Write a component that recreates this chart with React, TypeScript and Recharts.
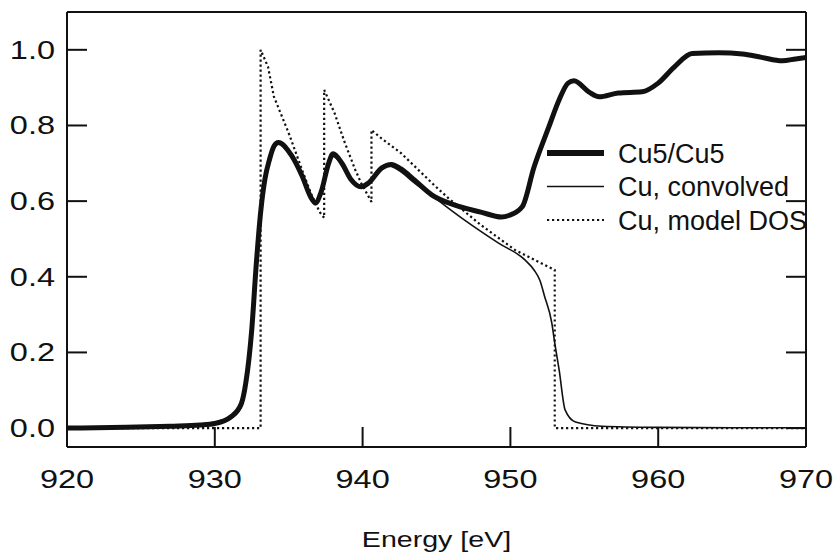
import { LineChart, Line, XAxis, YAxis, Legend } from 'recharts'

const energyTicks = [920, 930, 940, 950, 960, 970]
const innerEnergyTicks = [930, 940, 950, 960]
const intensityTicks = [0, 0.2, 0.4, 0.6, 0.8, 1.0]

// [energy eV, normalised intensity]
const cu5Cu5: [number, number][] = [
  [920, 0.0], [924, 0.002], [927, 0.005], [929, 0.008], [930, 0.012],
  [931.1, 0.03], [931.8, 0.065], [932.1, 0.12], [932.5, 0.26], [932.8, 0.43],
  [933.1, 0.57], [933.4, 0.66], [933.7, 0.71], [934.0, 0.745], [934.3, 0.755],
  [935.2, 0.72], [935.9, 0.667], [936.5, 0.61], [936.8, 0.595], [937.2, 0.625],
  [937.7, 0.7], [938.0, 0.725], [938.6, 0.7], [939.2, 0.658], [939.9, 0.638],
  [940.4, 0.648], [941.3, 0.688], [941.95, 0.697], [942.6, 0.685], [943.5, 0.656],
  [944.7, 0.616], [946.2, 0.59], [948.0, 0.571], [949.4, 0.558], [949.9, 0.562],
  [950.8, 0.585], [951.6, 0.69], [952.6, 0.796], [953.3, 0.868], [953.9, 0.912],
  [954.3, 0.918], [955.3, 0.889], [956.0, 0.876], [957.3, 0.886], [958.9, 0.889],
  [960.0, 0.912], [961.1, 0.955], [962.3, 0.99], [964.1, 0.992], [965.7, 0.989],
  [967.0, 0.98], [968.4, 0.971], [969.3, 0.976], [970, 0.98],
]

const cuConvolved: [number, number][] = [
  [920, 0.002], [924, 0.003], [927, 0.005], [929, 0.008], [930, 0.011],
  [931.1, 0.026], [931.8, 0.056], [932.1, 0.11], [932.5, 0.25], [932.8, 0.42],
  [933.1, 0.56], [933.4, 0.65], [933.7, 0.71], [934.1, 0.75], [934.4, 0.752],
  [935.2, 0.715], [935.9, 0.662], [936.5, 0.61], [936.8, 0.598], [937.2, 0.615],
  [937.7, 0.695], [938.0, 0.718], [938.6, 0.695], [939.2, 0.655], [939.8, 0.638],
  [940.4, 0.65], [941.2, 0.68], [941.8, 0.693], [942.5, 0.68], [943.5, 0.648],
  [944.9, 0.608], [946.9, 0.55], [949.2, 0.489], [951.0, 0.444], [951.6, 0.418],
  [952.0, 0.39], [952.3, 0.35], [952.8, 0.278], [953.0, 0.225], [953.3, 0.153],
  [953.7, 0.048], [954.4, 0.016], [956.2, 0.005], [960, 0.002], [965, 0.001],
  [970, 0.001],
]

const cuModelDos: [number, number][] = [
  [920, 0], [933.1, 0], [933.1, 1.0], [933.6, 0.955], [934.0, 0.876],
  [935.0, 0.78], [935.9, 0.683], [936.5, 0.621], [937.1, 0.571], [937.4, 0.556],
  [937.4, 0.894], [938.1, 0.833], [938.8, 0.754], [939.5, 0.683], [939.9, 0.648],
  [940.6, 0.598], [940.6, 0.788], [941.3, 0.765], [942.6, 0.727], [944.9, 0.64],
  [945.8, 0.608], [948.0, 0.537], [949.4, 0.497], [950.3, 0.471], [953.0, 0.418],
  [953.0, 0], [970, 0],
]

const toPoints = (rows: [number, number][]) => rows.map(([e, v]) => ({ e, v }))

const INK = '#111'
const FONT = '"Liberation Sans", Arial, Helvetica, sans-serif'
const STRETCH = 1.3 // the scanned figure's lettering is wide

const series = [
  { key: 'cu5', name: 'Cu5/Cu5', rows: cu5Cu5, width: 5, dash: undefined, curve: 'monotone' as const },
  { key: 'conv', name: 'Cu, convolved', rows: cuConvolved, width: 1.6, dash: undefined, curve: 'monotone' as const },
  { key: 'dos', name: 'Cu, model DOS', rows: cuModelDos, width: 2.2, dash: '2.2 2.8', curve: 'linear' as const },
]

function LegendBox() {
  return (
    <svg width={280} height={100} style={{ display: 'block', overflow: 'visible' }}>
      {series.map((s, i) => {
        const cy = 17 + i * 33.5
        return (
          <g key={s.key}>
            <line x1={0} x2={57} y1={cy} y2={cy} stroke={INK} strokeWidth={s.width === 5 ? 6 : s.width} strokeDasharray={s.dash} />
            <text x={71} y={cy + 9.5} fontSize={27} fill={INK} fontFamily={FONT}>
              {s.name}
            </text>
          </g>
        )
      })}
    </svg>
  )
}

function BottomTick(props: any) {
  const { x, y, payload } = props
  return (
    <text transform={`translate(${x},${y}) scale(${STRETCH},1)`} textAnchor="middle" dy="0.72em" fontSize={25} fill={INK}>
      {payload.value}
    </text>
  )
}

function LeftTick(props: any) {
  const { x, y, payload } = props
  return (
    <text transform={`translate(${x},${y}) scale(${STRETCH},1)`} textAnchor="end" dy="0.36em" fontSize={25} fill={INK}>
      {Number(payload.value).toFixed(1)}
    </text>
  )
}

function EnergyLabel(props: any) {
  const vb = props.viewBox || {}
  const cx = vb.x + vb.width / 2
  const by = vb.y + vb.height - 8
  return (
    <text transform={`translate(${cx},${by}) scale(${STRETCH},1)`} textAnchor="middle" fontSize={22} fill={INK}>
      Energy [eV]
    </text>
  )
}

const axisLine = { stroke: INK, strokeWidth: 2 }
const tickLine = { stroke: INK, strokeWidth: 2 }

export default function App() {
  return (
    <div style={{ position: 'absolute', left: 0, top: 0, width: 834, height: 555, background: '#fff', fontFamily: FONT }}>
      <LineChart width={834} height={555} margin={{ top: 11, right: 27, bottom: 0, left: 0 }}>
        <XAxis
          dataKey="e"
          type="number"
          domain={[920, 970]}
          ticks={energyTicks}
          interval={0}
          allowDataOverflow
          height={108}
          axisLine={axisLine}
          tickLine={tickLine}
          tickSize={-20}
          tickMargin={43}
          tick={<BottomTick />}
          label={{ content: <EnergyLabel /> }}
        />
        <XAxis
          xAxisId="top"
          orientation="top"
          type="number"
          domain={[920, 970]}
          ticks={innerEnergyTicks}
          interval={0}
          allowDataOverflow
          height={1}
          axisLine={axisLine}
          tickLine={tickLine}
          tickSize={-20}
          tickFormatter={() => ''}
        />
        <YAxis
          type="number"
          domain={[-0.05, 1.1]}
          ticks={intensityTicks}
          interval={0}
          allowDataOverflow
          width={67}
          axisLine={axisLine}
          tickLine={tickLine}
          tickSize={-20}
          tickMargin={32}
          tick={<LeftTick />}
        />
        <YAxis
          yAxisId="right"
          orientation="right"
          type="number"
          domain={[-0.05, 1.1]}
          ticks={intensityTicks}
          interval={0}
          allowDataOverflow
          width={1}
          axisLine={axisLine}
          tickLine={tickLine}
          tickSize={-20}
          tickFormatter={() => ''}
        />
        {[...series].reverse().map(s => (
          <Line
            key={s.key}
            data={toPoints(s.rows)}
            dataKey="v"
            name={s.name}
            type={s.curve}
            stroke={INK}
            strokeWidth={s.width}
            strokeDasharray={s.dash}
            dot={false}
            activeDot={false}
            isAnimationActive={false}
          />
        ))}
        <Legend
          layout="vertical"
          align="center"
          verticalAlign="middle"
          content={() => <LegendBox />}
          wrapperStyle={{ left: 547, top: 136, width: 280, height: 100 }}
        />
      </LineChart>
    </div>
  )
}
